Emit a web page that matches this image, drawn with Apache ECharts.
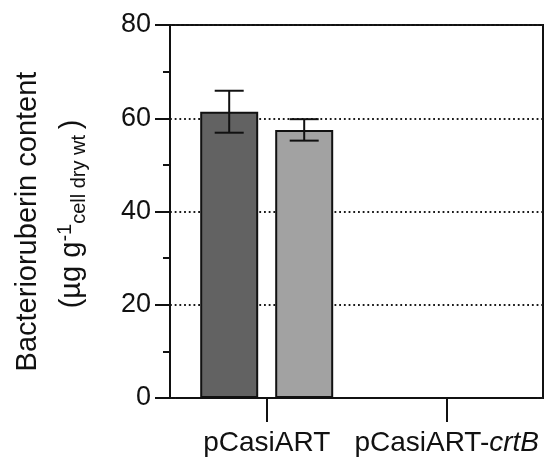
<!DOCTYPE html>
<html>
<head>
<meta charset="utf-8">
<script src="https://cdn.jsdelivr.net/npm/echarts@6/dist/echarts.min.js"></script>
<style>
  html, body { margin: 0; padding: 0; background: #fff; }
  #chart { width: 546px; height: 459px; }
</style>
</head>
<body>
<div id="chart"></div>
<script>
const categories = ['pCasiART', 'pCasiART-crtB'];
// two bars per strain, mean and error
const darkValues = [61.4, 0];
const darkErrors = [4.5, 0];
const lightValues = [57.5, 0];
const lightErrors = [2.3, 0];

const FONT = 'Liberation Sans, Arial, sans-serif';
const BAR_W = 58;
const BAR_GAP = 17;
const INK = '#111';

// error bars drawn over the bars
function errorData(values, errors) {
  return values.map((v, i) => [i, v - errors[i], v + errors[i]]);
}
function errorSeries(values, errors, side) {
  return {
    type: 'custom',
    z: 5,
    data: errorData(values, errors),
    renderItem: function (params, api) {
      const lo = api.coord([api.value(0), api.value(1)]);
      const hi = api.coord([api.value(0), api.value(2)]);
      if (hi[1] === lo[1]) return null;
      const x = lo[0] + side * (BAR_W + BAR_GAP) / 2;
      const cap = BAR_W / 4;
      const st = { stroke: INK, lineWidth: 2 };
      return {
        type: 'group',
        children: [
          { type: 'line', shape: { x1: x, y1: lo[1], x2: x, y2: hi[1] }, style: st },
          { type: 'line', shape: { x1: x - cap, y1: hi[1], x2: x + cap, y2: hi[1] }, style: st },
          { type: 'line', shape: { x1: x - cap, y1: lo[1], x2: x + cap, y2: lo[1] }, style: st }
        ]
      };
    }
  };
}

const chart = echarts.init(document.getElementById('chart'));
chart.setOption({
  animation: false,
  grid: [
    { left: 176.7, top: 25, width: 360, height: 373 },
    { left: 170, top: 25, width: 373, height: 373, show: true, borderColor: INK, borderWidth: 2, backgroundColor: 'transparent' }
  ],
  xAxis: [
    {
      type: 'category',
      gridIndex: 0,
      data: categories,
      axisLine: { show: true, lineStyle: { color: INK, width: 2 } },
      axisTick: { show: true, interval: 0, alignWithLabel: true, length: 24, lineStyle: { color: INK, width: 2 } },
      axisLabel: {
        interval: 0,
        hideOverlap: false,
        margin: 31,
        color: INK,
        fontSize: 28,
        fontFamily: FONT,
        formatter: function (v) {
          const i = v.indexOf('-');
          return i < 0 ? v : v.slice(0, i + 1) + '{i|' + v.slice(i + 1) + '}';
        },
        rich: { i: { fontStyle: 'italic', fontSize: 28, fontFamily: FONT, color: INK } }
      }
    },
    { type: 'value', gridIndex: 1, show: false }
  ],
  yAxis: [
    {
      type: 'value',
      gridIndex: 0,
      min: 0,
      max: 80,
      interval: 20,
      offset: 6.7,
      axisLine: { show: true, lineStyle: { color: INK, width: 2 } },
      axisTick: { show: true, length: 15, lineStyle: { color: INK, width: 2 } },
      minorTick: { show: true, splitNumber: 2, length: 7, lineStyle: { color: INK, width: 2 } },
      splitLine: { show: false },
      axisLabel: {
        margin: 19,
        color: INK,
        fontSize: 27,
        fontFamily: FONT
      }
    },
    {
      type: 'value',
      gridIndex: 1,
      min: 0,
      max: 80,
      interval: 20,
      axisLine: { show: false },
      axisTick: { show: false },
      axisLabel: { show: false },
      splitLine: { show: true, lineStyle: { color: '#1a1a1a', width: 1.8, type: [1.8, 2.9] } }
    }
  ],
  series: [
    {
      type: 'bar',
      data: darkValues,
      barWidth: BAR_W,
      barGap: (BAR_GAP / BAR_W * 100) + '%',
      itemStyle: { color: '#626262', borderColor: INK, borderWidth: 2 }
    },
    {
      type: 'bar',
      data: lightValues,
      barWidth: BAR_W,
      itemStyle: { color: '#a2a2a2', borderColor: INK, borderWidth: 2 }
    },
    errorSeries(darkValues, darkErrors, -1),
    errorSeries(lightValues, lightErrors, 1)
  ],
  graphic: [
    {
      type: 'text',
      x: 27.5,
      y: 221.5,
      rotation: Math.PI / 2,
      style: {
        text: 'Bacterioruberin content',
        fontSize: 29,
        fontFamily: FONT,
        fill: INK,
        align: 'center',
        verticalAlign: 'middle'
      }
    },
    {
      type: 'text',
      x: 72,
      y: 214,
      rotation: Math.PI / 2,
      style: {
        text: '{p|(µg g}{sup|-1}{sub|cell dry wt }{p|)}',
        align: 'center',
        verticalAlign: 'middle',
        rich: {
          p: { fontSize: 29, lineHeight: 34, fontFamily: FONT, fill: INK },
          sup: { fontSize: 20, lineHeight: 20, fontFamily: FONT, fill: INK, verticalAlign: 'top' },
          sub: { fontSize: 20, lineHeight: 18, fontFamily: FONT, fill: INK, verticalAlign: 'bottom' }
        }
      }
    }
  ]
});
</script>
</body>
</html>
